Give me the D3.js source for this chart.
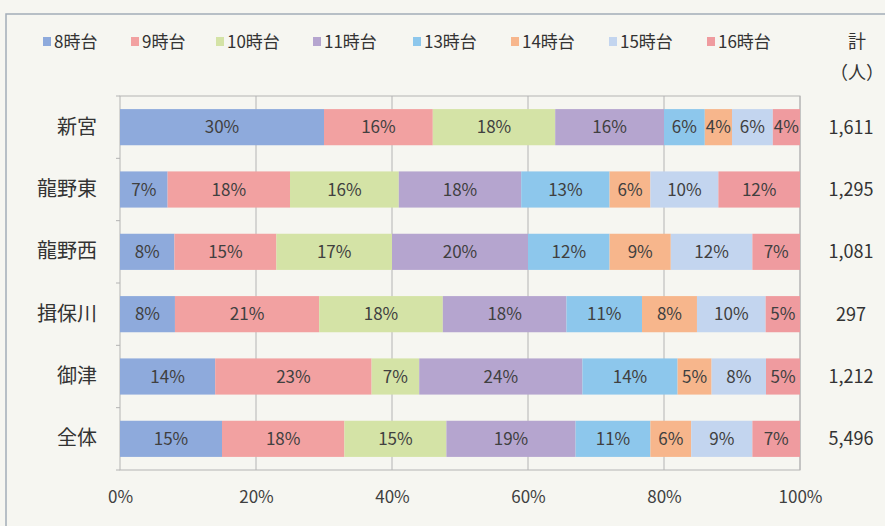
<!DOCTYPE html>
<html lang="ja">
<head>
<meta charset="utf-8">
<script src="https://cdn.jsdelivr.net/npm/d3@7"></script>
<style>
  html, body { margin: 0; padding: 0; background: #f6f6f1; }
  svg { display: block; }
  .jp { font-family: "Noto Sans CJK JP", sans-serif; }
  .num { font-family: "Noto Sans CJK JP", sans-serif; }
</style>
</head>
<body>
<div id="chart"></div>
<script>
// categories (rows, top to bottom)
const categories = ["新宮", "龍野東", "龍野西", "揖保川", "御津", "全体"];
// series (time slots)
const seriesNames = ["8時台", "9時台", "10時台", "11時台", "13時台", "14時台", "15時台", "16時台"];
// share per row, % (as printed on the bars)
const s8  = [30, 7, 8, 8, 14, 15];
const s9  = [16, 18, 15, 21, 23, 18];
const s10 = [18, 16, 17, 18, 7, 15];
const s11 = [16, 18, 20, 18, 24, 19];
const s13 = [6, 13, 12, 11, 14, 11];
const s14 = [4, 6, 9, 8, 5, 6];
const s15 = [6, 10, 12, 10, 8, 9];
const s16 = [4, 12, 7, 5, 5, 7];
// totals (persons)
const totals = ["1,611", "1,295", "1,081", "297", "1,212", "5,496"];
const tickValues = [0, 0.2, 0.4, 0.6, 0.8, 1];

const colors = ["#8eaadc", "#f2a1a1", "#d4e3a6", "#b5a5cf", "#8dc7ec", "#f7b68c", "#c3d5ef", "#ef9b9f"];

const width = 885, height = 526;
const margin = {top: 96, right: 85, bottom: 56, left: 120};

const svg = d3.select('#chart').append('svg')
    .attr('width', width)
    .attr('height', height);

// outer frame (scan of a framed figure)
svg.append('path')
    .attr('d', `M6,${height} V14 H${width}`)
    .attr('fill', 'none')
    .attr('stroke', '#a3adb8')
    .attr('stroke-width', 1.5);

const series = [s8, s9, s10, s11, s13, s14, s15, s16];
const rows = categories.map((c, i) => {
    const r = {cat: c};
    seriesNames.forEach((s, j) => { r[s] = series[j][i]; });
    return r;
});

const stacked = d3.stack().keys(seriesNames).offset(d3.stackOffsetExpand)(rows);

const x = d3.scaleLinear().domain([0, 1]).range([margin.left, width - margin.right]);
const y = d3.scaleBand().domain(categories)
    .range([margin.top, height - margin.bottom])
    .paddingInner(0.42).paddingOuter(0.21);

// gridlines
svg.append('g')
    .selectAll('line')
    .data(tickValues.slice(1))
    .enter().append('line')
    .attr('x1', d => x(d)).attr('x2', d => x(d))
    .attr('y1', margin.top).attr('y2', height - margin.bottom)
    .attr('stroke', '#b4b4b4').attr('stroke-width', 1);

// plot frame
svg.append('rect')
    .attr('x', x(0)).attr('y', margin.top)
    .attr('width', x(1) - x(0)).attr('height', height - margin.bottom - margin.top)
    .attr('fill', 'none').attr('stroke', '#b4b4b4');

// bars
const groups = svg.append('g').selectAll('g')
    .data(stacked)
    .enter().append('g')
    .attr('fill', (d, i) => colors[i]);

groups.selectAll('rect')
    .data(d => d)
    .enter().append('rect')
    .attr('x', d => x(d[0]))
    .attr('y', d => y(d.data.cat))
    .attr('width', d => x(d[1]) - x(d[0]))
    .attr('height', y.bandwidth());

// segment labels
stacked.forEach((layer, i) => {
    svg.append('g').selectAll('text')
        .data(layer)
        .enter().append('text')
        .attr('class', 'num')
        .attr('x', d => (x(d[0]) + x(d[1])) / 2)
        .attr('y', d => y(d.data.cat) + y.bandwidth() / 2)
        .attr('dy', '0.36em')
        .attr('text-anchor', 'middle')
        .attr('font-size', 17)
        .attr('fill', '#404040')
        .text(d => d.data[layer.key] + '%');
});

// y axis (category labels + small ticks)
const yAxis = svg.append('g')
    .attr('transform', `translate(${x(0)},0)`)
    .call(d3.axisLeft(y).tickSize(0).tickPadding(23));
yAxis.select('.domain').remove();
yAxis.selectAll('text')
    .attr('class', 'jp')
    .attr('font-size', 20)
    .attr('fill', '#333');
const step = y.step();
svg.append('g').selectAll('line')
    .data(d3.range(categories.length + 1))
    .enter().append('line')
    .attr('x1', x(0) - 4).attr('x2', x(0))
    .attr('y1', i => margin.top + i * step).attr('y2', i => margin.top + i * step)
    .attr('stroke', '#b4b4b4');

// x axis
const xAxis = svg.append('g')
    .attr('transform', `translate(0,${height - margin.bottom})`)
    .call(d3.axisBottom(x).tickValues(tickValues).tickFormat(d3.format('.0%')).tickSize(0).tickPadding(21));
xAxis.select('.domain').remove();
xAxis.selectAll('text')
    .attr('class', 'num')
    .attr('font-size', 17)
    .attr('fill', '#404040');

// totals column
svg.append('g').selectAll('text')
    .data(totals)
    .enter().append('text')
    .attr('class', 'num')
    .attr('x', 851)
    .attr('y', (d, i) => y(categories[i]) + y.bandwidth() / 2)
    .attr('dy', '0.36em')
    .attr('text-anchor', 'middle')
    .attr('font-size', 18)
    .attr('fill', '#333')
    .text(d => d);

svg.append('text').attr('class', 'jp')
    .attr('x', 857).attr('y', 48)
    .attr('text-anchor', 'middle').attr('font-size', 18).attr('fill', '#333')
    .text('計');
svg.append('text').attr('class', 'jp')
    .attr('x', 857).attr('y', 79)
    .attr('text-anchor', 'middle').attr('font-size', 18).attr('fill', '#333')
    .text('（人）');

// legend
const legendX = [43, 131, 216, 313, 413, 511, 609, 707];
const legend = svg.append('g').selectAll('g')
    .data(seriesNames)
    .enter().append('g')
    .attr('transform', (d, i) => `translate(${legendX[i]},42)`);
legend.append('rect')
    .attr('x', 0).attr('y', -5).attr('width', 8).attr('height', 9)
    .attr('fill', (d, i) => colors[i]);
legend.append('text')
    .attr('class', 'jp')
    .attr('x', 11).attr('dy', '0.36em')
    .attr('font-size', 17).attr('fill', '#333')
    .text(d => d);
</script>
</body>
</html>
